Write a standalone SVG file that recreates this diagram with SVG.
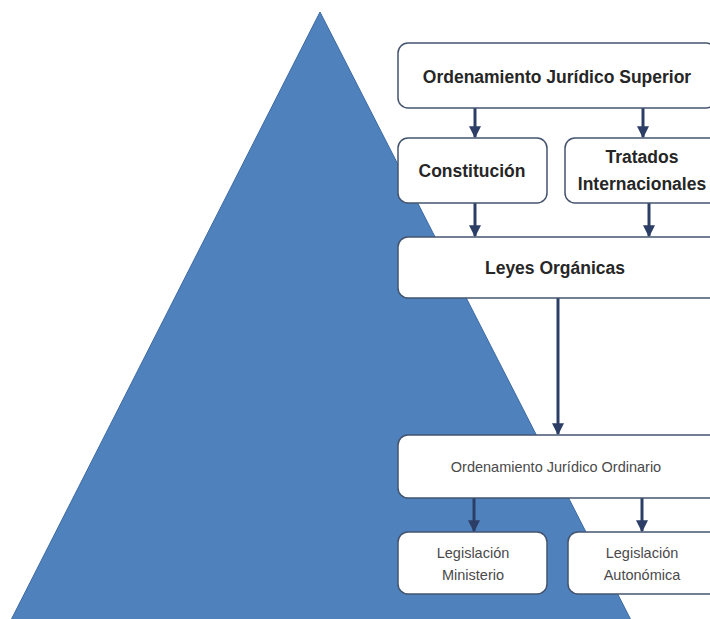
<svg xmlns="http://www.w3.org/2000/svg" width="710" height="619" viewBox="0 0 710 619">
  <style>
    .box { fill: #ffffff; stroke: #44546f; stroke-width: 1.5; }
    .bold { font-family: "Liberation Sans", Arial, sans-serif; font-weight: bold; font-size: 17.5px; fill: #262626; text-anchor: middle; }
    .norm { font-family: "Liberation Sans", Arial, sans-serif; font-size: 14.5px; fill: #4a4a4a; text-anchor: middle; }
    .conn { stroke: #2c3e66; stroke-width: 3; fill: none; marker-end: url(#arr); }
  </style>
  <defs>
    <marker id="arr" viewBox="0 0 10 10" refX="9" refY="5" markerWidth="4" markerHeight="4" orient="auto" markerUnits="strokeWidth">
      <path d="M0,0 L10,5 L0,10 z" fill="#2c3e66"/>
    </marker>
  </defs>
  <rect width="710" height="619" fill="#ffffff"/>
  <g id="pyramid">
    <polygon points="320,12 632,622 10,622" fill="#4f81bd" stroke="#3c6aa3" stroke-width="1"/>
  </g>
  <g id="connectors">
    <line class="conn" x1="475" y1="108" x2="475" y2="137"/>
    <line class="conn" x1="643" y1="108" x2="643" y2="137"/>
    <line class="conn" x1="475" y1="203" x2="475" y2="236"/>
    <line class="conn" x1="649" y1="203" x2="649" y2="236"/>
    <line class="conn" x1="558" y1="298" x2="558" y2="434"/>
    <line class="conn" x1="474" y1="498" x2="474" y2="531"/>
    <line class="conn" x1="642" y1="498" x2="642" y2="531"/>
  </g>
  <g id="superior">
    <rect class="box" x="398" y="43" width="318" height="65" rx="10"/>
    <text class="bold" x="557" y="83">Ordenamiento Jurídico Superior</text>
  </g>
  <g id="constitucion">
    <rect class="box" x="398" y="138" width="149" height="65" rx="10"/>
    <text class="bold" x="472" y="177">Constitución</text>
  </g>
  <g id="tratados">
    <rect class="box" x="565" y="138" width="155" height="65" rx="10"/>
    <text class="bold" x="642" y="163">Tratados</text>
    <text class="bold" x="642" y="190">Internacionales</text>
  </g>
  <g id="leyes">
    <rect class="box" x="398" y="237" width="322" height="61" rx="10"/>
    <text class="bold" x="555" y="274">Leyes Orgánicas</text>
  </g>
  <g id="ordinario">
    <rect class="box" x="398" y="435" width="322" height="63" rx="10"/>
    <text class="norm" x="556" y="472">Ordenamiento Jurídico Ordinario</text>
  </g>
  <g id="ministerio">
    <rect class="box" x="398" y="532" width="149" height="62" rx="10"/>
    <text class="norm" x="473" y="558">Legislación</text>
    <text class="norm" x="473" y="580">Ministerio</text>
  </g>
  <g id="autonomica">
    <rect class="box" x="568" y="532" width="152" height="62" rx="10"/>
    <text class="norm" x="642" y="558">Legislación</text>
    <text class="norm" x="642" y="580">Autonómica</text>
  </g>
</svg>
